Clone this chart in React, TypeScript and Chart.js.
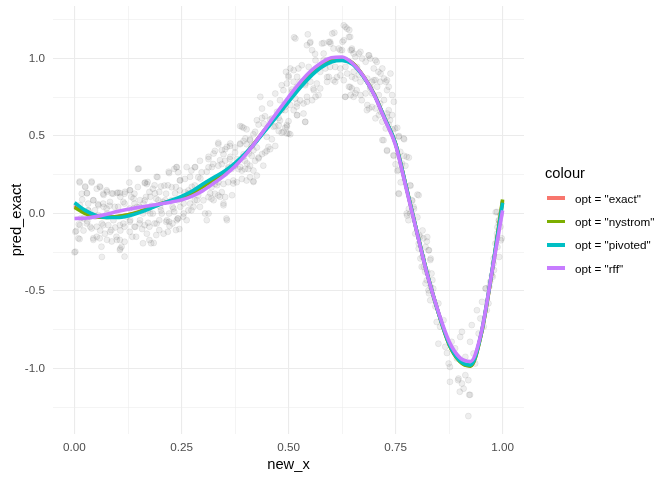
import { useEffect, useRef } from "react"
import { Chart, registerables } from "chart.js"

Chart.register(...registerables)

// fitted curves, evaluated on a shared grid
const lineX = [
  0, 0.025, 0.05, 0.075, 0.1, 0.125, 0.15, 0.175, 0.2, 0.225, 0.25, 0.275, 0.3, 0.325, 0.35, 0.375, 0.4,
  0.425, 0.45, 0.475, 0.5, 0.525, 0.55, 0.575, 0.6, 0.625, 0.65, 0.675, 0.7, 0.725, 0.75, 0.775, 0.8,
  0.825, 0.85, 0.875, 0.9, 0.925, 0.95, 0.975, 1,
]
const exactY = [
  0.05, 0.005, -0.018, -0.024, -0.02, -0.008, 0.01, 0.035, 0.062, 0.082, 0.103, 0.135, 0.178, 0.218, 0.262,
  0.317, 0.386, 0.47, 0.558, 0.647, 0.736, 0.82, 0.895, 0.953, 0.987, 0.997, 0.968, 0.885, 0.77, 0.612, 0.45,
  0.17, -0.12, -0.4, -0.64, -0.843, -0.952, -0.982, -0.78, -0.38, 0.08,
]
const nystromY = [
  0.04, 0.0, -0.02, -0.025, -0.02, -0.008, 0.01, 0.035, 0.062, 0.08, 0.1, 0.13, 0.175, 0.215, 0.26, 0.315,
  0.385, 0.47, 0.56, 0.65, 0.74, 0.825, 0.9, 0.957, 0.99, 1.0, 0.97, 0.885, 0.77, 0.61, 0.45, 0.17, -0.12,
  -0.4, -0.64, -0.845, -0.955, -0.985, -0.78, -0.38, 0.09,
]
const pivotedY = [
  0.07, 0.02, -0.012, -0.026, -0.026, -0.016, 0.004, 0.03, 0.06, 0.085, 0.11, 0.145, 0.19, 0.232, 0.272,
  0.325, 0.39, 0.465, 0.55, 0.635, 0.72, 0.805, 0.88, 0.94, 0.978, 0.988, 0.962, 0.882, 0.768, 0.612, 0.45,
  0.17, -0.12, -0.4, -0.64, -0.84, -0.95, -0.978, -0.775, -0.375, 0.07,
]
const rffY = [
  -0.032, -0.03, -0.02, -0.005, 0.013, 0.027, 0.04, 0.05, 0.062, 0.073, 0.088, 0.112, 0.148, 0.195, 0.245,
  0.305, 0.38, 0.47, 0.565, 0.66, 0.752, 0.84, 0.915, 0.97, 1.005, 1.01, 0.968, 0.885, 0.765, 0.605, 0.44,
  0.16, -0.125, -0.405, -0.635, -0.825, -0.93, -0.955, -0.77, -0.38, 0.02,
]

const seriesLabels = ['opt = "exact"', 'opt = "nystrom"', 'opt = "pivoted"', 'opt = "rff"']
const seriesColors = ["#F8766D", "#7CAE00", "#00BFC4", "#C77CFF"]

const xTicks = [0, 0.125, 0.25, 0.375, 0.5, 0.625, 0.75, 0.875, 1]
const yTicks = [-1.25, -1, -0.75, -0.5, -0.25, 0, 0.25, 0.5, 0.75, 1, 1.25]

const samplePoints: [number, number][] = [
  [0.002, -0.118], [0.009, -0.16], [0.012, 0.2], [0.025, 0.17], [0.04, 0.2], [0.029, 0.13], [0.044, 0.086],
  [0.06, 0.17], [0.068, 0.12], [0.076, 0.14], [0.087, 0.13], [0.099, 0.133], [0.107, 0.108], [0.044, -0.17],
  [0.052, -0.15], [0.06, -0.11], [0.076, -0.17], [0.087, -0.18], [0.099, -0.17], [0.107, -0.226],
  [0.037, -0.086], [0.021, -0.11], [0.048, -0.02], [0.064, -0.065], [0.076, 0], [0.091, -0.043],
  [0.107, -0.11], [0.114, -0.065], [0.122, -0.02], [0.114, 0.075], [0.068, 0.043], [0.005, 0.05],
  [0.015, -0.03], [0.018, 0.09], [0.032, 0.02], [0.055, 0.06], [0.082, 0.05], [0.095, -0.09], [0.118, 0.14],
  [0.03, -0.05], [0.071, -0.13], [0.01, -0.07], [0.0, -0.25], [0.064, -0.28],
  [0.012, 0.207], [0.025, 0.175], [0.04, 0.207], [0.017, 0.128], [0.029, 0.132], [0.059, 0.175],
  [0.067, 0.128], [0.075, 0.15], [0.083, 0.075], [0.09, 0.128], [0.102, 0.135], [0.106, 0.132],
  [0.129, 0.15], [0.133, 0.107], [0.148, 0.171], [0.148, 0.288], [0.164, 0.197], [0.171, 0.203],
  [0.175, 0.139], [0.167, 0.107], [0.187, 0.182], [0.198, 0.139], [0.202, 0.175], [0.214, 0.128],
  [0.218, 0.182], [0.221, 0.261], [0.233, 0.288], [0.237, 0.171], [0.194, 0.235], [0.044, 0.085],
  [0.056, 0.053], [0.067, 0.064], [0.013, 0.053], [0.032, 0.021], [0.048, 0.021], [0.075, 0.032],
  [0.094, 0.043], [0.102, 0.043], [0.117, 0.064], [0.129, 0.032], [0.14, 0.064], [0.152, 0.043],
  [0.164, 0.085], [0.191, 0.096], [0.206, 0.075], [0.229, 0.043], [0.241, 0.085], [0.004, -0.112],
  [0.013, -0.075], [0.029, -0.064], [0.04, -0.096], [0.052, -0.085], [0.067, -0.075], [0.079, -0.075],
  [0.086, -0.107], [0.106, -0.075], [0.117, -0.085], [0.129, -0.053], [0.14, -0.085], [0.152, -0.064],
  [0.164, -0.075], [0.175, -0.085], [0.187, -0.064], [0.198, -0.043], [0.214, -0.053], [0.229, -0.064],
  [0.241, -0.032], [0.012, -0.165], [0.044, -0.16], [0.059, -0.16], [0.083, -0.118], [0.098, -0.15],
  [0.106, -0.171], [0.11, -0.214], [0.117, -0.182], [0.129, -0.118], [0.144, -0.15], [0.16, -0.192],
  [0.175, -0.171], [0.191, -0.139], [0.198, -0.107], [0.218, -0.118], [0.063, -0.214], [0.106, -0.235],
  [0.117, -0.278], [0.002, -0.246], [0.179, -0.192], [0.221, -0.053], [0.237, -0.107], [0.183, 0],
  [0.202, 0.021], [0.221, 0], [0.233, 0.011], [0.021, -0.032], [0.036, -0.021], [0.056, -0.011],
  [0.16, 0], [0.171, 0.021], [0.14, 0.128], [0.117, 0.128], [0.052, 0.16], [0.032, 0.064],
  [0.13, 0.15], [0.138, 0.097], [0.15, 0.29], [0.153, 0.086], [0.165, 0.2], [0.169, 0.19], [0.177, 0.108],
  [0.192, 0.237], [0.196, 0.086], [0.22, 0.27], [0.227, 0.17], [0.239, 0.3], [0.247, 0.215], [0.13, -0.043],
  [0.142, -0.086], [0.153, -0.043], [0.169, -0.13], [0.177, 0], [0.185, -0.19], [0.192, -0.065],
  [0.208, -0.13], [0.216, -0.043], [0.231, 0.032], [0.239, -0.043], [0.247, 0.043], [0.146, 0.043],
  [0.161, 0.065], [0.2, 0.043], [0.212, 0.086], [0.227, 0.086], [0.188, 0.13], [0.138, 0.032], [0.204, 0],
  [0.255, 0], [0.135, -0.15], [0.158, -0.1], [0.18, 0.05], [0.21, 0.18], [0.235, 0.13], [0.245, -0.1],
  [0.172, -0.06], [0.222, -0.08], [0.128, 0.2], [0.183, 0.16],
  [0.238, 0.298], [0.242, 0.266], [0.246, 0.149], [0.25, 0.096], [0.258, 0.138], [0.266, 0.149],
  [0.27, 0.064], [0.273, 0.021], [0.281, 0.085], [0.289, 0.117], [0.266, 0.021], [0.242, -0.032],
  [0.254, -0.021], [0.262, -0.043], [0.309, -0.043], [0.313, 0], [0.355, -0.032], [0.293, 0.043],
  [0.301, 0.085], [0.313, 0.106], [0.32, 0.096], [0.328, 0.128], [0.336, 0.117], [0.344, 0.138],
  [0.352, 0.106], [0.348, 0.053], [0.297, 0.16], [0.309, 0.181], [0.32, 0.17], [0.328, 0.191],
  [0.336, 0.202], [0.348, 0.191], [0.359, 0.202], [0.371, 0.213], [0.379, 0.202], [0.391, 0.223],
  [0.402, 0.213], [0.418, 0.209], [0.41, 0.234], [0.281, 0.181], [0.289, 0.234], [0.297, 0.266],
  [0.313, 0.298], [0.324, 0.319], [0.336, 0.309], [0.344, 0.319], [0.352, 0.34], [0.359, 0.298],
  [0.367, 0.287], [0.375, 0.309], [0.383, 0.287], [0.391, 0.277], [0.398, 0.287], [0.41, 0.309],
  [0.422, 0.34], [0.43, 0.362], [0.438, 0.383], [0.445, 0.394], [0.457, 0.415], [0.469, 0.436],
  [0.293, 0.34], [0.313, 0.351], [0.328, 0.404], [0.336, 0.447], [0.352, 0.415], [0.363, 0.436],
  [0.375, 0.426], [0.387, 0.447], [0.395, 0.468], [0.402, 0.447], [0.414, 0.436], [0.426, 0.426],
  [0.449, 0.404], [0.461, 0.479], [0.387, 0.564], [0.395, 0.553], [0.402, 0.543], [0.41, 0.479],
  [0.418, 0.511], [0.43, 0.574], [0.438, 0.617], [0.445, 0.628], [0.457, 0.606], [0.469, 0.564],
  [0.477, 0.532], [0.484, 0.521], [0.492, 0.553], [0.5, 0.596], [0.504, 0.511], [0.477, 0.617],
  [0.336, 0.457], [0.348, 0.383], [0.363, 0.351], [0.379, 0.351], [0.414, 0.372], [0.375, 0.394],
  [0.281, 0.298], [0.273, 0.277], [0.258, 0.223], [0.246, 0.213], [0.395, 0.383], [0.398, 0.34],
  [0.406, 0.287], [0.418, 0.277], [0.426, 0.245], [0.441, 0.309],
  [0.262, 0.3], [0.27, 0.237], [0.282, 0.3], [0.294, 0.226], [0.309, 0.27], [0.313, 0.366], [0.325, 0.387],
  [0.329, 0.215], [0.34, 0.344], [0.344, 0.409], [0.356, 0.43], [0.364, 0.452], [0.368, 0.312],
  [0.266, 0.13], [0.274, 0.172], [0.286, 0.086], [0.298, 0.16], [0.305, 0], [0.317, 0.13], [0.325, 0.086],
  [0.333, 0.183], [0.34, 0.108], [0.348, 0.065], [0.356, -0.043], [0.368, 0.118], [0.371, 0.194],
  [0.255, 0.065], [0.278, 0.043], [0.309, 0.194], [0.321, 0.3], [0.352, 0.258], [0.36, 0.29], [0.364, 0.366],
  [0.387, 0.452], [0.391, 0.56], [0.399, 0.484], [0.403, 0.323], [0.407, 0.387], [0.418, 0.409],
  [0.418, 0.204], [0.43, 0.355], [0.434, 0.753], [0.438, 0.677], [0.442, 0.58], [0.449, 0.495],
  [0.453, 0.43], [0.457, 0.71], [0.465, 0.56], [0.469, 0.774], [0.473, 0.656], [0.477, 0.57],
  [0.484, 0.667], [0.492, 0.688], [0.496, 0.516], [0.5, 0.88], [0.387, 0.3], [0.395, 0.366], [0.41, 0.473],
  [0.422, 0.527], [0.426, 0.602], [0.461, 0.613], [0.48, 0.731], [0.488, 0.796], [0.494, 0.914],
  [0.484, 0.828], [0.48, 0.6], [0.492, 0.667], [0.496, 0.56], [0.488, 0.527],
  [0.516, 1.129], [0.543, 1.086], [0.551, 1.107], [0.555, 1.054], [0.578, 1.097], [0.582, 1.032],
  [0.594, 1.107], [0.598, 1.097], [0.602, 1.161], [0.605, 1.064], [0.617, 1.064], [0.621, 1.054],
  [0.629, 1.118], [0.633, 1.204], [0.637, 1.193], [0.641, 1.139], [0.645, 1.054], [0.648, 1.064],
  [0.652, 1.032], [0.656, 1.011], [0.664, 1.032], [0.672, 1.0], [0.68, 0.979], [0.688, 1.021],
  [0.691, 1.0], [0.703, 0.989], [0.699, 0.936], [0.715, 0.903], [0.719, 0.936], [0.723, 0.871],
  [0.727, 0.85], [0.73, 0.796], [0.734, 0.818], [0.738, 0.903], [0.742, 0.764], [0.746, 0.721],
  [0.734, 0.667], [0.73, 0.624], [0.727, 0.549], [0.719, 0.474], [0.742, 0.635], [0.523, 0.936],
  [0.531, 0.957], [0.547, 0.946], [0.563, 0.989], [0.566, 0.936], [0.586, 0.936], [0.59, 0.989],
  [0.609, 0.946], [0.621, 0.936], [0.633, 0.946], [0.637, 0.903], [0.648, 0.882], [0.652, 0.914],
  [0.656, 0.871], [0.66, 0.946], [0.664, 0.893], [0.668, 0.85], [0.684, 0.871], [0.695, 0.85],
  [0.691, 0.807], [0.703, 0.861], [0.707, 0.818], [0.711, 0.764], [0.695, 0.775], [0.68, 0.775],
  [0.668, 0.764], [0.648, 0.807], [0.641, 0.818], [0.656, 0.775], [0.645, 0.764], [0.633, 0.753],
  [0.609, 0.85], [0.594, 0.882], [0.574, 0.807], [0.57, 0.764], [0.559, 0.796], [0.551, 0.85],
  [0.539, 0.828], [0.527, 0.85], [0.52, 0.882], [0.504, 0.936], [0.496, 0.839], [0.508, 0.785],
  [0.516, 0.742], [0.535, 0.71], [0.543, 0.721], [0.563, 0.753], [0.504, 0.7], [0.512, 0.667],
  [0.52, 0.635], [0.539, 0.592], [0.496, 0.571], [0.5, 0.517], [0.688, 0.678], [0.703, 0.678],
  [0.715, 0.657], [0.723, 0.732], [0.684, 0.7], [0.703, 0.614], [0.719, 0.592], [0.711, 0.635],
  [0.513, 1.137], [0.545, 1.156], [0.55, 1.1], [0.582, 1.1], [0.597, 1.108], [0.607, 1.167], [0.512, 0.925],
  [0.519, 0.817], [0.527, 0.73], [0.535, 0.645], [0.539, 0.839], [0.543, 0.753], [0.555, 0.731],
  [0.558, 0.806], [0.562, 1.03], [0.566, 0.839], [0.574, 0.914], [0.582, 0.99], [0.59, 0.85],
  [0.597, 0.946], [0.605, 0.86], [0.613, 0.88], [0.512, 0.85], [0.508, 0.8], [0.519, 0.69],
  [0.626, 1.108], [0.629, 1.214], [0.642, 1.184], [0.644, 1.14], [0.625, 1.054], [0.648, 1.054],
  [0.668, 1.043], [0.687, 1.02], [0.5, 0.89], [0.59, 0.88], [0.621, 0.892], [0.629, 0.86], [0.632, 0.753],
  [0.644, 0.817], [0.652, 0.753], [0.659, 0.796], [0.671, 0.731], [0.691, 0.817], [0.699, 0.86],
  [0.71, 0.914], [0.714, 0.85], [0.706, 0.978], [0.683, 0.667], [0.695, 0.688], [0.714, 0.71],
  [0.73, 0.86], [0.73, 0.645], [0.737, 0.602], [0.749, 0.548], [0.722, 0.473], [0.73, 0.409],
  [0.745, 0.376], [0.757, 0.495], [0.769, 0.484], [0.761, 0.398], [0.765, 0.323], [0.776, 0.366],
  [0.757, 0.28], [0.784, 0.183], [0.757, 0.13], [0.788, 0.086], [0.804, 0.118], [0.784, 0],
  [0.78, -0.043], [0.792, 0.043], [0.52, 0.71], [0.52, 0.634], [0.539, 0.591],
  [0.734, 0.575], [0.742, 0.543], [0.754, 0.553], [0.758, 0.5], [0.77, 0.479], [0.73, 0.404],
  [0.746, 0.372], [0.75, 0.318], [0.754, 0.276], [0.77, 0.372], [0.781, 0.361], [0.773, 0.308],
  [0.762, 0.201], [0.785, 0.179], [0.758, 0.126], [0.801, 0.122], [0.789, 0.083], [0.781, 0.03],
  [0.777, -0.013], [0.793, 0.03], [0.801, -0.024], [0.813, -0.109], [0.824, -0.152], [0.805, -0.141],
  [0.82, -0.216], [0.828, -0.237], [0.813, -0.28], [0.832, -0.291], [0.816, -0.344], [0.824, -0.376],
  [0.82, -0.451], [0.832, -0.472], [0.828, -0.515], [0.836, -0.429],
  [0.776, 0], [0.796, -0.13], [0.804, -0.194], [0.808, -0.15], [0.815, -0.16],
  [0.823, -0.18], [0.804, -0.226], [0.827, -0.237], [0.808, -0.29], [0.831, -0.3], [0.811, -0.344],
  [0.819, -0.376], [0.823, -0.43], [0.834, -0.387], [0.827, -0.495], [0.831, -0.56], [0.838, -0.484],
  [0.843, -0.6], [0.85, -0.58], [0.846, -0.7], [0.854, -0.73], [0.85, -0.84], [0.862, -0.688],
  [0.866, -0.86], [0.87, -0.9], [0.874, -0.968], [0.877, -0.99], [0.877, -1.086], [0.881, -0.828],
  [0.889, -0.87], [0.893, -0.935], [0.897, -1.065], [0.901, -0.796], [0.905, -0.763], [0.905, -1.097],
  [0.909, -1.13], [0.913, -1.043], [0.92, -1.075], [0.924, -1.17], [0.92, -1.307], [0.924, -0.828],
  [0.928, -0.72], [0.932, -0.903], [0.936, -0.968], [0.94, -0.624], [0.944, -0.774], [0.948, -0.677],
  [0.952, -0.57], [0.956, -0.73], [0.96, -0.484], [0.963, -0.624], [0.967, -0.58], [0.979, -0.29],
  [0.979, -0.323], [0.983, -0.194], [0.987, -0.16], [0.991, -0.065], [0.995, -0.01], [0.975, -0.4],
  [0.971, -0.44], [0.913, -0.925], [0.896, -1.075], [0.922, -1.17], [0.9, -1.15],
  [0.987, 0.01], [0.991, -0.043], [0.995, -0.086], [0.987, -0.13], [0.998, -0.16],
  [0.984, 0.009], [0.992, -0.045], [0.988, -0.088], [0.996, -0.173], [0.988, -0.216], [0.992, -0.28],
  [0.98, -0.365], [0.977, -0.408], [0.961, -0.483], [0.969, -0.472],
]

const FONT = "'Liberation Sans', Arial, sans-serif"

const isMultiple = (v: number, step: number) => Math.abs(v / step - Math.round(v / step)) < 1e-9

export default function App() {
  const canvasRef = useRef<HTMLCanvasElement>(null)
  const chartRef = useRef<Chart | null>(null)

  useEffect(() => {
    if (!canvasRef.current) return

    const curves = [exactY, nystromY, pivotedY, rffY]
    // first dataset is painted last, so rff goes first and the points go last
    const lineSets = curves
      .map((ys, i) => ({
        label: seriesLabels[i],
        data: lineX.map((x, j) => ({ x, y: ys[j] })),
        showLine: true,
        borderColor: seriesColors[i],
        backgroundColor: seriesColors[i],
        borderWidth: 3.6,
        pointRadius: 0,
        cubicInterpolationMode: "monotone" as const,
      }))
      .reverse()

    const pointSet = {
      label: "obs",
      data: samplePoints.map(([x, y]) => ({ x, y })),
      showLine: false,
      pointRadius: 3,
      borderWidth: 1,
      backgroundColor: "rgba(0,0,0,0.065)",
      borderColor: "rgba(0,0,0,0.065)",
    }

    chartRef.current = new Chart(canvasRef.current, {
      type: "scatter",
      data: { datasets: [...lineSets, pointSet] as any },
      options: {
        responsive: true,
        maintainAspectRatio: false,
        animation: false,
        events: [],
        layout: { padding: { top: 6, right: 148, bottom: 0, left: 0 } },
        plugins: { legend: { display: false }, tooltip: { enabled: false } },
        scales: {
          x: {
            type: "linear",
            min: -0.0502,
            max: 1.05,
            afterBuildTicks: (scale) => {
              scale.ticks = xTicks.map((value) => ({ value }))
            },
            afterFit: (scale: any) => {
              scale.height = 46
              scale.paddingLeft = 0
              scale.paddingRight = 0
            },
            ticks: {
              autoSkip: false,
              maxRotation: 0,
              padding: 7,
              color: "#4D4D4D",
              font: { family: FONT, size: 11.7 },
              callback: (v) => (isMultiple(Number(v), 0.25) ? Number(v).toFixed(2) : ""),
            },
            grid: {
              color: "#EBEBEB",
              drawTicks: false,
              lineWidth: (ctx) => (isMultiple(ctx.tick.value, 0.25) ? 1.1 : 0.55),
            },
            border: { display: false },
            title: {
              display: true,
              text: "new_x",
              color: "#000",
              font: { family: FONT, size: 14.7 },
              padding: { top: 0, bottom: 6 },
            },
          },
          y: {
            type: "linear",
            min: -1.4226,
            max: 1.339,
            afterBuildTicks: (scale) => {
              scale.ticks = yTicks.map((value) => ({ value }))
            },
            afterFit: (scale: any) => {
              scale.width = 53
              scale.paddingTop = 0
              scale.paddingBottom = 0
            },
            ticks: {
              autoSkip: false,
              padding: 8,
              color: "#4D4D4D",
              font: { family: FONT, size: 11.7 },
              callback: (v) => (isMultiple(Number(v), 0.5) ? Number(v).toFixed(1) : ""),
            },
            grid: {
              color: "#EBEBEB",
              drawTicks: false,
              lineWidth: (ctx) => (isMultiple(ctx.tick.value, 0.5) ? 1.1 : 0.55),
            },
            border: { display: false },
            title: {
              display: true,
              text: "pred_exact",
              color: "#000",
              font: { family: FONT, size: 14.7 },
              padding: { top: 8, bottom: 0 },
            },
          },
        },
      },
    })

    return () => {
      chartRef.current?.destroy()
      chartRef.current = null
    }
  }, [])

  return (
    <div
      style={{
        position: "fixed",
        left: 0,
        top: 0,
        width: 672,
        height: 480,
        background: "#fff",
        fontFamily: FONT,
      }}
    >
      <canvas ref={canvasRef} />
      <div style={{ position: "absolute", left: 545, top: 164, fontSize: 14.7, lineHeight: "18px", color: "#000" }}>
        colour
      </div>
      {seriesLabels.map((label, i) => (
        <div
          key={label}
          style={{
            position: "absolute",
            left: 547,
            top: 190 + i * 23.4,
            height: 16,
            display: "flex",
            alignItems: "center",
            whiteSpace: "nowrap",
          }}
        >
          <div style={{ width: 18, height: 3.6, background: seriesColors[i] }} />
          <span style={{ marginLeft: 10, fontSize: 11.7, color: "#000" }}>{label}</span>
        </div>
      ))}
    </div>
  )
}
